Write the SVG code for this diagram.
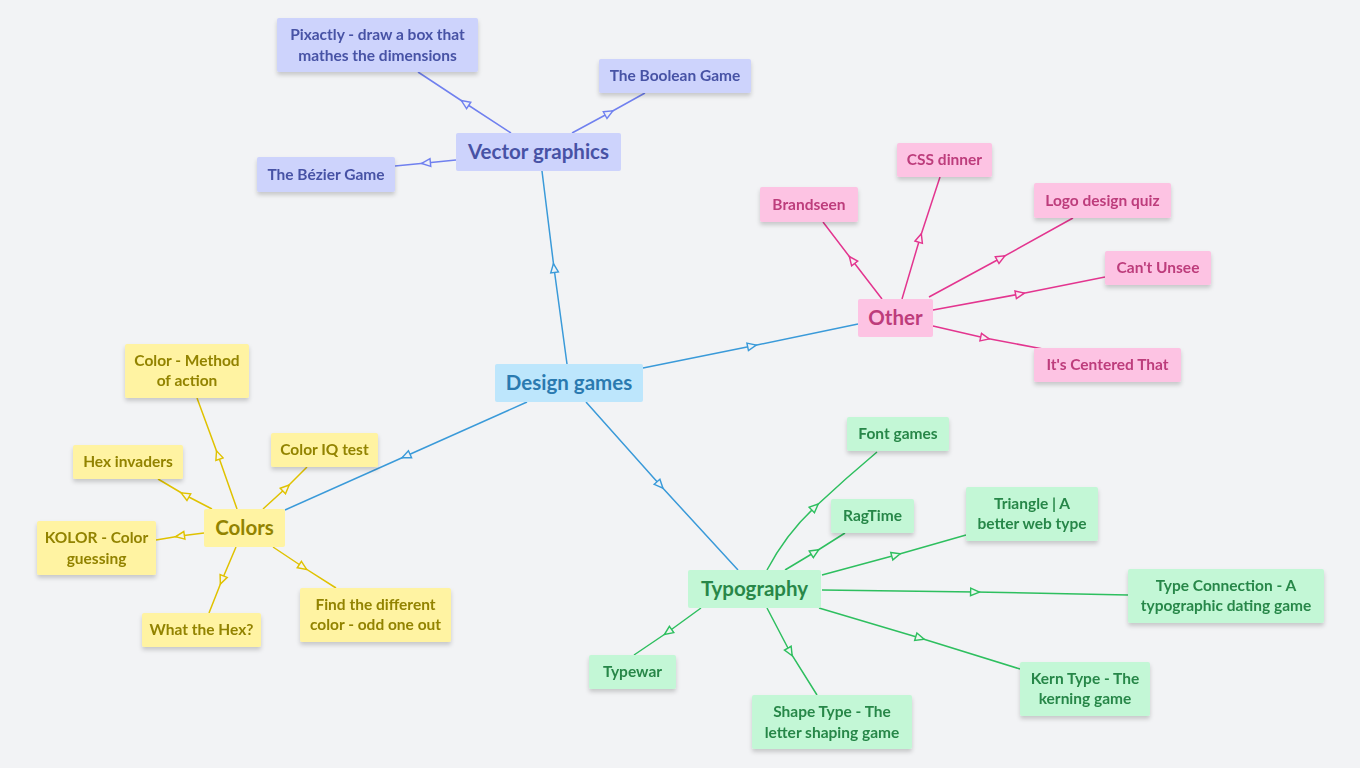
<svg xmlns="http://www.w3.org/2000/svg" width="1360" height="768" viewBox="0 0 1360 768">
<defs>
<style>
text{font-family:Lato,"Source Sans Pro","Liberation Sans",sans-serif;font-weight:700;text-anchor:middle;}
.lf{font-size:15.5px;}
.mn{font-size:20.5px;}
.c{fill:none;stroke-width:1.5;}
.cb{stroke:#3a9ad9;marker-mid:url(#ab);}
.cv{stroke:#7080ef;marker-mid:url(#av);}
.cp{stroke:#e3358f;marker-mid:url(#ap);}
.cy{stroke:#e0c200;marker-mid:url(#ay);}
.cg{stroke:#2ebf5f;marker-mid:url(#ag);}
.rb{fill:#bde6fc;} .tb{fill:#2a7ab0;}
.rv{fill:#cdd3fc;} .tv{fill:#4752a5;}
.rp{fill:#fdc3e3;} .tp{fill:#bd3c7b;}
.ry{fill:#fff3a2;} .ty{fill:#928300;}
.rg{fill:#c3f7d6;} .tg{fill:#288748;}
.sh{filter:url(#sh);}
</style>
<filter id="sh" x="-10%" y="-20%" width="120%" height="160%">
<feDropShadow dx="0" dy="3" stdDeviation="2" flood-color="#000" flood-opacity="0.18"/>
</filter>
<marker id="ab" viewBox="0 0 10 10" refX="5" refY="5" markerWidth="11" markerHeight="11" markerUnits="userSpaceOnUse" orient="auto"><path d="M1,1.5 L9,5 L1,8.5 Z" fill="#eef3f7" stroke="#3a9ad9" stroke-width="1.3"/></marker>
<marker id="av" viewBox="0 0 10 10" refX="5" refY="5" markerWidth="11" markerHeight="11" markerUnits="userSpaceOnUse" orient="auto"><path d="M1,1.5 L9,5 L1,8.5 Z" fill="#eef0f8" stroke="#7080ef" stroke-width="1.3"/></marker>
<marker id="ap" viewBox="0 0 10 10" refX="5" refY="5" markerWidth="11" markerHeight="11" markerUnits="userSpaceOnUse" orient="auto"><path d="M1,1.5 L9,5 L1,8.5 Z" fill="#f6eef3" stroke="#e3358f" stroke-width="1.3"/></marker>
<marker id="ay" viewBox="0 0 10 10" refX="5" refY="5" markerWidth="11" markerHeight="11" markerUnits="userSpaceOnUse" orient="auto"><path d="M1,1.5 L9,5 L1,8.5 Z" fill="#f6f4e8" stroke="#e0c200" stroke-width="1.3"/></marker>
<marker id="ag" viewBox="0 0 10 10" refX="5" refY="5" markerWidth="11" markerHeight="11" markerUnits="userSpaceOnUse" orient="auto"><path d="M1,1.5 L9,5 L1,8.5 Z" fill="#eef6f1" stroke="#2ebf5f" stroke-width="1.3"/></marker>
</defs>
<rect x="0" y="0" width="1360" height="768" fill="#f2f3f5"/>

<g id="connectors">
<polyline class="c cb" points="567,364 554,268 542,171"/>
<polyline class="c cb" points="643,368 752,346 858,324"/>
<polyline class="c cb" points="527,402 406,456 285,510"/>
<polyline class="c cb" points="586,402 660,485 738,570"/>

<polyline class="c cv" points="511,133 465,103 418,72"/>
<polyline class="c cv" points="572,133 609,113 645,93"/>
<polyline class="c cv" points="456,160 426,163 395,166"/>

<polyline class="c cp" points="882,299 852,260 823,222"/>
<polyline class="c cp" points="902,299 920,238 940,177"/>
<polyline class="c cp" points="929,297 1001,258 1073,218"/>
<polyline class="c cp" points="933,310 1020,294 1105,277"/>
<polyline class="c cp" points="933,326 985,338 1043,349"/>

<polyline class="c cy" points="237,509 218,455 197,398"/>
<polyline class="c cy" points="212,509 185,495 158,479"/>
<polyline class="c cy" points="263,509 286,488 307,467"/>
<polyline class="c cy" points="204,533 180,536 156,540"/>
<polyline class="c cy" points="236,547 222,580 209,613"/>
<polyline class="c cy" points="273,547 303,567 336,588"/>

<path class="c cg" d="M767,570 Q786,534 815,507 Q846,478 877,452"/>
<polyline class="c cg" points="785,570 815,552 845,533"/>
<polyline class="c cg" points="822,575 896,555 966,535"/>
<polyline class="c cg" points="822,590 975,592 1128,595"/>
<polyline class="c cg" points="819,608 920,638 1020,669"/>
<polyline class="c cg" points="767,608 790,652 817,695"/>
<polyline class="c cg" points="701,608 668,632 634,655"/>
</g>

<g id="design-games"><rect class="rb" x="495" y="364" width="148" height="38" rx="2"/><text class="mn tb" x="569" y="390">Design games</text></g>

<g id="vector-graphics"><rect class="rv" x="456" y="133" width="165" height="38" rx="2"/><text class="mn tv" x="538.5" y="159">Vector graphics</text></g>
<g id="pixactly" class="sh"><rect class="rv" x="277" y="18" width="201" height="54" rx="2"/><text class="lf tv" x="377.5" y="40">Pixactly - draw a box that</text><text class="lf tv" x="377.5" y="61">mathes the dimensions</text></g>
<g id="boolean" class="sh"><rect class="rv" x="599" y="59" width="152" height="34" rx="2"/><text class="lf tv" x="675" y="81">The Boolean Game</text></g>
<g id="bezier" class="sh"><rect class="rv" x="257" y="157" width="138" height="35" rx="2"/><text class="lf tv" x="326" y="180">The Bézier Game</text></g>

<g id="other"><rect class="rp" x="858" y="299" width="75" height="38" rx="2"/><text class="mn tp" x="895.5" y="325">Other</text></g>
<g id="css-dinner" class="sh"><rect class="rp" x="897" y="143" width="95" height="34" rx="2"/><text class="lf tp" x="944.5" y="165">CSS dinner</text></g>
<g id="brandseen" class="sh"><rect class="rp" x="760" y="187" width="98" height="35" rx="2"/><text class="lf tp" x="809" y="210">Brandseen</text></g>
<g id="logo-quiz" class="sh"><rect class="rp" x="1034" y="183" width="137" height="35" rx="2"/><text class="lf tp" x="1102.5" y="206">Logo design quiz</text></g>
<g id="cant-unsee" class="sh"><rect class="rp" x="1105" y="251" width="106" height="34" rx="2"/><text class="lf tp" x="1158" y="273">Can't Unsee</text></g>
<g id="centered" class="sh"><rect class="rp" x="1034" y="348" width="147" height="34" rx="2"/><text class="lf tp" x="1107.5" y="370">It's Centered That</text></g>

<g id="colors"><rect class="ry" x="204" y="509" width="81" height="38" rx="2"/><text class="mn ty" x="244.5" y="535">Colors</text></g>
<g id="method" class="sh"><rect class="ry" x="125" y="344" width="124" height="54" rx="2"/><text class="lf ty" x="187" y="366">Color - Method</text><text class="lf ty" x="187" y="386">of action</text></g>
<g id="color-iq" class="sh"><rect class="ry" x="271" y="433" width="107" height="34" rx="2"/><text class="lf ty" x="324.5" y="455">Color IQ test</text></g>
<g id="hex-invaders" class="sh"><rect class="ry" x="73" y="445" width="110" height="34" rx="2"/><text class="lf ty" x="128" y="467">Hex invaders</text></g>
<g id="kolor" class="sh"><rect class="ry" x="37" y="521" width="119" height="54" rx="2"/><text class="lf ty" x="96.5" y="543">KOLOR - Color</text><text class="lf ty" x="96.5" y="564">guessing</text></g>
<g id="what-hex" class="sh"><rect class="ry" x="142" y="613" width="119" height="34" rx="2"/><text class="lf ty" x="201.5" y="635">What the Hex?</text></g>
<g id="find-different" class="sh"><rect class="ry" x="300" y="588" width="151" height="54" rx="2"/><text class="lf ty" x="375.5" y="610">Find the different</text><text class="lf ty" x="375.5" y="630">color - odd one out</text></g>

<g id="typography"><rect class="rg" x="688" y="570" width="133" height="38" rx="2"/><text class="mn tg" x="754.5" y="596">Typography</text></g>
<g id="font-games" class="sh"><rect class="rg" x="847" y="417" width="102" height="34" rx="2"/><text class="lf tg" x="898" y="439">Font games</text></g>
<g id="ragtime" class="sh"><rect class="rg" x="831" y="499" width="83" height="34" rx="2"/><text class="lf tg" x="872.5" y="521">RagTime</text></g>
<g id="triangle" class="sh"><rect class="rg" x="966" y="487" width="132" height="54" rx="2"/><text class="lf tg" x="1032" y="509">Triangle | A</text><text class="lf tg" x="1032" y="529">better web type</text></g>
<g id="type-connection" class="sh"><rect class="rg" x="1128" y="569" width="196" height="54" rx="2"/><text class="lf tg" x="1226" y="591">Type Connection - A</text><text class="lf tg" x="1226" y="611">typographic dating game</text></g>
<g id="typewar" class="sh"><rect class="rg" x="589" y="655" width="87" height="34" rx="2"/><text class="lf tg" x="632.5" y="677">Typewar</text></g>
<g id="shape-type" class="sh"><rect class="rg" x="752" y="695" width="160" height="54" rx="2"/><text class="lf tg" x="832" y="717">Shape Type - The</text><text class="lf tg" x="832" y="738">letter shaping game</text></g>
<g id="kern-type" class="sh"><rect class="rg" x="1020" y="662" width="130" height="54" rx="2"/><text class="lf tg" x="1085" y="684">Kern Type - The</text><text class="lf tg" x="1085" y="704">kerning game</text></g>
</svg>
